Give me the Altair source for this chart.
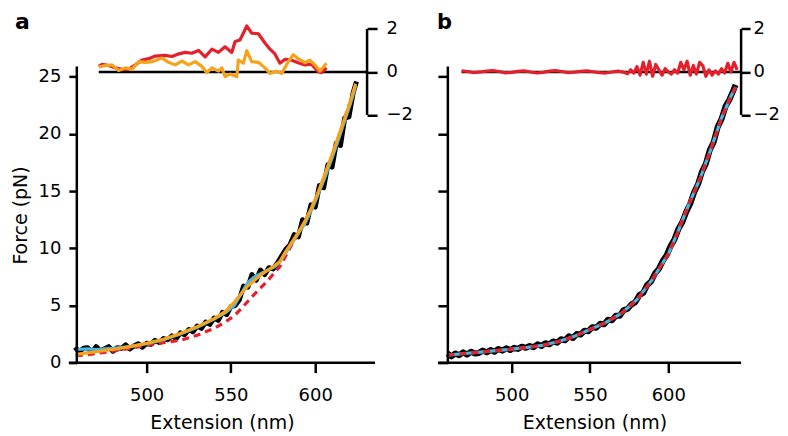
import altair as alt
import pandas as pd

# ---------------- panel a data ----------------
a_ext = [457.5, 460, 462.5, 465, 467.5, 470, 472.5, 475, 477.5, 480,
         482.5, 485, 487.5, 490, 492.5, 495, 497.5, 500, 502.5, 505,
         507.5, 510, 512.5, 515, 517.5, 520, 522.5, 525, 527.5, 530,
         532.5, 535, 537.5, 540, 542.5, 545, 547.5, 550, 552.5, 555,
         557.5, 560, 562.5, 565, 567.5, 570, 572.5, 575, 577.5, 580,
         582.5, 585, 587.5, 590, 592.5, 595, 597.5, 600, 602.5, 605,
         607.5, 610, 612.5, 615, 617.5, 620, 622.5, 624.5]
a_force = [1.35, 0.95, 1.25, 1.3, 0.9, 1.4, 1.05, 1.2, 1.4, 1.0,
           1.3, 1.25, 1.55, 1.2, 1.45, 1.65, 1.35, 1.7, 1.6, 1.95,
           1.75, 2.1, 2.0, 2.35, 2.1, 2.6, 2.45, 2.9, 2.7, 3.2,
           3.0, 3.55, 3.35, 3.9, 3.7, 4.4, 4.2, 4.9, 5.0, 5.5,
           6.7, 6.6, 7.7, 7.2, 8.1, 7.7, 8.3, 8.2, 8.7, 9.3,
           9.9, 10.3, 11.2, 11.0, 12.5, 12.2, 13.8, 13.6, 15.5, 15.3,
           17.3, 17.1, 19.2, 19.0, 21.4, 21.5, 23.6, 24.6]

a_fit_ext = [458, 465, 470, 475, 480, 490, 500, 510, 520, 530,
             540, 547, 552, 556, 560, 564, 568, 572, 576, 579,
             582, 586, 590, 594, 598, 602, 606, 610, 614, 618,
             621, 624]
a_fit_orange = [0.72, 0.85, 0.95, 1.05, 1.15, 1.4, 1.7, 2.05, 2.55, 3.15,
                3.85, 4.5, 5.3, 6.0, 6.7, 7.2, 7.7, 8.1, 8.5, 8.85,
                9.6, 10.5, 11.4, 12.4, 13.6, 15.0, 16.6, 18.2, 19.9, 21.6,
                22.9, 24.4]
a_fit_cyan = [1.15, 1.2, 1.15, 1.2, 1.25, 1.4, 1.65, 2.0, 2.5, 3.1,
              3.8, 4.4, 5.0, 6.0, 7.0, 7.5, 7.8, 8.1, 8.4, 8.8,
              9.5, 10.4, 11.3, 12.2, 13.4, 14.8, 16.3, 17.9, 19.6, 21.4,
              22.7, 24.2]
a_fit_red = [0.6, 0.7, 0.8, 0.9, 1.0, 1.25, 1.5, 1.75, 1.95, 2.4,
             3.0, 3.6, 4.1, 4.7, 5.35, 6.0, 6.6, 7.2, 7.9, 8.4,
             9.2, 10.3, 11.3, 12.3, 13.6, 14.9, 16.5, 18.1, 19.8, 21.6,
             22.9, 24.3]

a_res_red_ext = [471.6, 473.6, 477.5, 481.5, 485.4, 489.3, 493.3, 497.2, 501.2, 505.1,
                 511.0, 515.0, 518.9, 522.9, 526.8, 530.8, 534.7, 538.7, 542.6, 546.5,
                 550.5, 552.5, 555.4, 559.4, 562.3, 566.3, 570.2, 573.2, 576.1, 579.1,
                 582.1, 586.0, 589.9, 593.9, 597.8, 601.8, 603.7, 606.7]
a_res_red = [0.26, 0.36, 0.30, 0.19, 0.12, 0.12, 0.33, 0.55, 0.62, 0.74,
             0.77, 0.72, 0.84, 0.91, 0.87, 1.0, 0.70, 1.06, 0.91, 1.17,
             0.91, 1.42, 1.49, 2.14, 1.81, 1.78, 1.35, 1.06, 0.84, 0.41,
             0.59, 0.55, 0.43, 0.33, 0.36, 0.01, -0.03, 0.19]
a_res_orange_ext = [471.6, 475.5, 479.5, 483.4, 487.4, 491.3, 495.3, 499.2, 503.2, 509.1,
                    513.0, 517.0, 520.9, 524.9, 528.8, 532.7, 535.7, 538.7, 542.6, 544.6,
                    546.5, 549.5, 553.5, 554.4, 557.4, 559.4, 562.3, 566.3, 570.2, 573.2,
                    577.1, 580.1, 584.0, 587.0, 589.9, 593.9, 596.8, 599.8, 602.8, 606.7]
a_res_orange = [0.23, 0.30, 0.33, 0.07, 0.19, 0.12, 0.48, 0.45, 0.48, 0.65,
                0.45, 0.33, 0.51, 0.33, 0.48, 0.26, -0.03, 0.19, 0.04, 0.19,
                -0.22, -0.10, -0.22, 0.55, 0.41, 0.99, 0.48, 0.45, 0.19, -0.07,
                0.04, -0.07, 0.48, 0.80, 0.62, 0.43, 0.55, 0.33, 0.04, 0.41]

# ---------------- panel b data ----------------
b_ext = [459, 461.5, 464, 466.5, 469, 471.5, 474, 476.5, 479, 481.5,
         484, 486.5, 489, 491.5, 494, 496.5, 499, 501.5, 504, 506.5,
         509, 511.5, 514, 516.5, 519, 521.5, 524, 526.5, 529, 531.5,
         534, 536.5, 539, 541.5, 544, 546.5, 549, 551.5, 554, 556.5,
         559, 561.5, 564, 566.5, 569, 571.5, 574, 576.5, 579, 581.5,
         584, 586.5, 589, 591.5, 594, 596.5, 599, 601.5, 604, 606.5,
         609, 611.5, 614, 616.5, 619, 621.5, 624, 626.5, 629, 631.5,
         634, 636.5, 639, 641.5, 643]
b_force = [0.8, 0.55, 0.8, 0.65, 0.9, 0.7, 0.95, 0.8, 0.85, 1.05,
           0.9, 1.1, 0.95, 1.2, 1.05, 1.25, 1.1, 1.3, 1.2, 1.4,
           1.3, 1.45, 1.35, 1.6, 1.45, 1.7, 1.6, 1.85, 1.75, 2.05,
           1.95, 2.3, 2.15, 2.5, 2.45, 2.8, 2.75, 3.1, 3.05, 3.4,
           3.35, 3.75, 3.7, 4.1, 4.1, 4.6, 4.7, 5.1, 5.3, 5.9,
           6.1, 6.8, 7.1, 7.8, 8.2, 8.9, 9.4, 10.2, 10.8, 11.7,
           12.3, 13.2, 13.9, 14.9, 15.6, 16.7, 17.4, 18.6, 19.3, 20.6,
           21.3, 22.4, 23.0, 23.8, 24.3]
b_fit_ext = [459, 470, 480, 490, 500, 510, 520, 530, 540, 550,
             560, 570, 580, 590, 600, 606, 613, 620, 627, 634,
             640, 643]
b_fit = [0.65, 0.8, 0.92, 1.05, 1.18, 1.33, 1.52, 1.85, 2.3, 2.9,
         3.5, 4.3, 5.5, 7.3, 9.5, 11.4, 13.8, 16.0, 18.6, 21.4,
         23.3, 24.1]
b_res_ext = [468, 472, 476, 480, 484, 488, 492, 496, 500, 504,
             508, 512, 516, 520, 524, 528, 532, 536, 540, 544,
             548, 552, 556, 560, 564, 568, 571, 574, 576, 578,
             580, 582, 584, 586, 588, 590, 592, 594, 596, 598,
             600, 602, 604, 606, 608, 610, 612, 614, 616, 618,
             620, 622, 624, 626, 628, 630, 632, 634, 636, 638,
             640, 642, 644]
b_res = [0.05, 0.02, -0.03, 0.0, 0.04, 0.06, 0.02, -0.04, -0.02, 0.03,
         0.05, 0.0, -0.05, -0.02, 0.04, 0.06, 0.02, -0.03, -0.01, 0.03,
         0.05, 0.01, -0.03, -0.05, 0.0, 0.04, 0.0, -0.08, 0.1, -0.05,
         0.25, -0.15, 0.45, -0.1, 0.5, -0.2, 0.35, 0.1, -0.15, 0.15,
         0.0, -0.1, 0.1, -0.05, 0.45, 0.1, 0.5, -0.15, 0.3, -0.1,
         0.45, 0.3, -0.2, 0.1, -0.15, 0.05, -0.1, 0.15, -0.05, 0.4,
         0.0, 0.45, 0.1]

force_ticks = [0, 5, 10, 15, 20, 25]
ext_ticks = [500, 550, 600]
res_ticks = [-2, 0, 2]

# ---------------- style ----------------
FONT = "DejaVu Sans"
RED = "#e3202b"
ORANGE = "#f6a31c"
CYAN = "#44b8e2"
PLOT_H = 335
FORCE_DOM = [0, 29.23]
RES_DOM = [-13.53, 2.023]
YAXIS_TOP = 25.9
AXW = 2.5


def df(**cols):
    return pd.DataFrame(cols)


def panel(label, lab_size, lab_dx, xdom, xline_left, xline_right, res_left, width,
          show_labels, data, black_w, fits, residuals, ytick, rpad, rtick):
    xs = alt.Scale(domain=xdom, nice=False, zero=False)
    ys = alt.Scale(domain=FORCE_DOM, nice=False, zero=False)
    rs = alt.Scale(domain=RES_DOM, nice=False, zero=False)

    xaxis = alt.Axis(values=ext_ticks, title="Extension (nm)", tickSize=10,
                     labelPadding=14, titlePadding=9, format="d")
    if show_labels:
        yaxis = alt.Axis(values=force_ticks, title="Force (pN)", tickSize=ytick,
                         labelPadding=8, titleY=187, titlePadding=8, orient="left")
    else:
        yaxis = alt.Axis(values=force_ticks, title="", labels=False,
                         tickSize=ytick, orient="left")
    raxis_def = alt.Axis(orient="right", values=res_ticks, title="",
                         tickSize=rtick, labelPadding=rpad, labelFontSize=18)

    def X(field):
        return alt.X(field, type="quantitative", scale=xs, axis=xaxis)

    def Y(field):
        return alt.Y(field, type="quantitative", scale=ys, axis=yaxis)

    def R(field):
        return alt.Y(field, type="quantitative", scale=rs, axis=raxis_def)

    black = alt.Chart(data).mark_line(
        color="black", strokeWidth=black_w, strokeJoin="round").encode(
        x=X("ext"), y=Y("f"))
    main_layers = [black]
    for fdf, col, dash in fits:
        kw = dict(color=col, strokeWidth=3.2)
        if dash:
            kw["strokeDash"] = [7, 5]
        main_layers.append(alt.Chart(fdf).mark_line(**kw).encode(
            x=X("ext"), y=Y("f")))
    yline = alt.Chart(df(ext=[xdom[0]], f=[0], f2=[YAXIS_TOP])).mark_rule(
        color="black", strokeWidth=AXW).encode(x=X("ext"), y=Y("f"), y2="f2:Q")
    xline = alt.Chart(df(ext=[xline_left], ext2=[xline_right], f=[0])).mark_rule(
        color="black", strokeWidth=AXW).encode(x=X("ext"), x2="ext2:Q", y=Y("f"))
    lab = alt.Chart(df(t=[label])).mark_text(
        font=FONT, fontSize=lab_size, fontWeight="bold", align="left",
        baseline="alphabetic", color="black").encode(
        text="t:N", x=alt.value(lab_dx), y=alt.value(1))
    main_layers += [yline, xline, lab]
    main = alt.layer(*main_layers)

    zero = alt.Chart(df(ext=[res_left], ext2=[xdom[1]], r=[0])).mark_rule(
        color="black", strokeWidth=AXW).encode(x=X("ext"), x2="ext2:Q", y=R("r"))
    raxis = alt.Chart(df(ext=[xdom[1]], r=[-2], r2=[2])).mark_rule(
        color="black", strokeWidth=AXW).encode(x=X("ext"), y=R("r"), y2="r2:Q")
    res_layers = [zero, raxis]
    for rdf, col in residuals:
        res_layers.append(alt.Chart(rdf).mark_line(
            color=col, strokeWidth=3.2, strokeJoin="round").encode(
            x=X("ext"), y=R("r")))
    resid = alt.layer(*res_layers)

    return alt.layer(main, resid).resolve_scale(y="independent").properties(
        width=width, height=PLOT_H)


pa = panel(
    "a", 22, -62, [458.58, 630.77], 453.8, 635.5, 471.6, 291, True,
    df(ext=a_ext, f=a_force), 5,
    [(df(ext=a_fit_ext, f=a_fit_red), RED, True),
     (df(ext=a_fit_ext, f=a_fit_cyan), CYAN, False),
     (df(ext=a_fit_ext, f=a_fit_orange), ORANGE, False)],
    [(df(ext=a_res_red_ext, r=a_res_red), RED),
     (df(ext=a_res_orange_ext, r=a_res_orange), ORANGE)],
    8, 9, 10)

pb = panel(
    "b", 21, -11, [459.24, 646.5], 452.9, 646.5, 468.0, 294, False,
    df(ext=b_ext, f=b_force), 6,
    [(df(ext=b_fit_ext, f=b_fit), CYAN, False),
     (df(ext=b_fit_ext, f=b_fit), RED, True)],
    [(df(ext=b_res_ext, r=b_res), RED)],
    10, 3, 9)

chart = alt.hconcat(pa, pb, spacing=23).properties(
    padding={"left": 3, "top": 3, "right": 0, "bottom": 0}
).configure_view(stroke=None).configure_axis(
    labelFont=FONT, titleFont=FONT, labelFontSize=18, titleFontSize=19,
    titleFontWeight="normal", labelColor="black", titleColor="black",
    tickColor="black", tickWidth=AXW, domain=False, grid=False)

chart.save("out.html", embed_options={"renderer": "svg", "actions": False})
